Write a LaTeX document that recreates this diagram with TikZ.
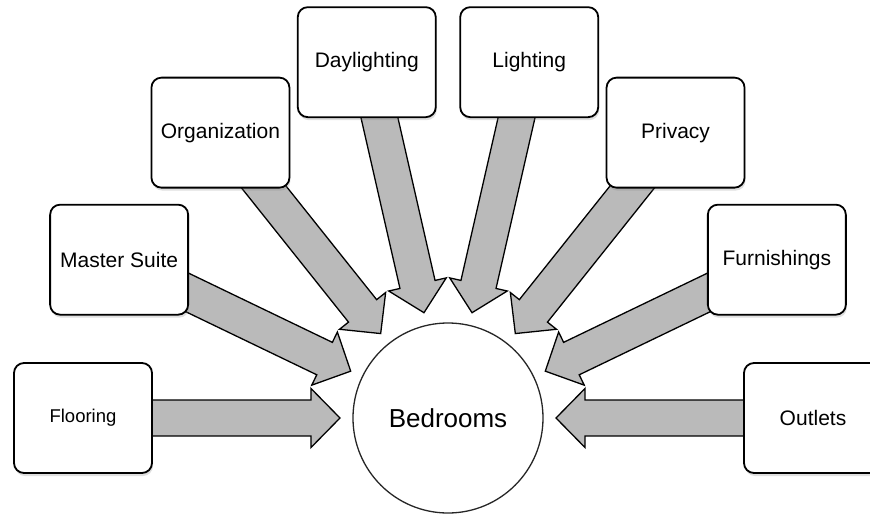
\documentclass[tikz,border=0pt]{standalone}
\usepackage{fontspec}
\setmainfont{Liberation Sans}
\usetikzlibrary{calc, backgrounds, shadows}

\newcommand{\BoxW}{138pt}
\newcommand{\BoxH}{110pt}
\newcommand{\Ring}{365}
\newcommand{\TipR}{108}
\newcommand{\ShaftW}{18pt}
\newcommand{\HeadW}{29.5pt}
\newcommand{\HeadL}{29pt}

\tikzset{TopicBox/.style={
    inner sep=0pt,
    minimum width=\BoxW,
    minimum height=\BoxH,
    rounded corners=10pt,
    draw=black,
    line width=1.8pt,
    fill=white,
    align=center,
    font=\fontsize{21}{25}\selectfont,
    drop shadow={opacity=0.25, shadow xshift=1pt, shadow yshift=-3pt}
    }
}
\tikzset{HubCircle/.style={
    circle,
    inner sep=0pt,
    minimum size=190pt,
    draw=black!85,
    line width=1.3pt,
    fill=white,
    font=\fontsize{26}{30}\selectfont
    }
}
\tikzset{ArrowBody/.style={
    draw=black,
    line width=1.3pt,
    fill=black!27,
    line join=miter
    }
}

% fat block arrow from a node (centre) to a tip coordinate
\newcommand{\FatArrow}[2]{%
    \coordinate (hb) at ($(#2)!\HeadL!(#1)$);
    \filldraw[ArrowBody]
        ($(#1)!\ShaftW!90:(#2)$) -- ($(hb)!\ShaftW!-90:(#1)$)
        -- ($(hb)!\HeadW!-90:(#1)$) -- (#2)
        -- ($(hb)!\HeadW!90:(#1)$) -- ($(hb)!\ShaftW!90:(#1)$)
        -- ($(#1)!\ShaftW!-90:(#2)$) -- cycle;
}

\begin{document}
\begin{tikzpicture}[x=1pt, y=1pt]
    \useasboundingbox (-448,-97) rectangle (422,418);

    \node (Bed) [HubCircle] at (0,0) {Bedrooms};

    \node (Floor) [TopicBox, font=\fontsize{18.5}{22}\selectfont] at (180:\Ring) {Flooring};
    \node (Suite) [TopicBox] at (154.29:\Ring) {Master Suite};
    \node (Org) [TopicBox] at (128.57:\Ring) {Organization};
    \node (Day) [TopicBox] at (102.86:\Ring) {Daylighting};
    \node (Light) [TopicBox] at (77.14:\Ring) {Lighting};
    \node (Priv) [TopicBox] at (51.43:\Ring) {Privacy};
    \node (Furn) [TopicBox] at (25.71:\Ring) {Furnishings};
    \node (Out) [TopicBox] at (0:\Ring) {Outlets};

    \coordinate (FloorTip) at (180:\TipR);
    \coordinate (SuiteTip) at (154.29:\TipR);
    \coordinate (OrgTip) at (128.57:\TipR);
    \coordinate (DayTip) at (102.86:\TipR);
    \coordinate (LightTip) at (77.14:\TipR);
    \coordinate (PrivTip) at (51.43:\TipR);
    \coordinate (FurnTip) at (25.71:\TipR);
    \coordinate (OutTip) at (0:\TipR);

    \begin{pgfonlayer}{background}
        \FatArrow{Floor}{FloorTip}
        \FatArrow{Suite}{SuiteTip}
        \FatArrow{Org}{OrgTip}
        \FatArrow{Day}{DayTip}
        \FatArrow{Light}{LightTip}
        \FatArrow{Priv}{PrivTip}
        \FatArrow{Furn}{FurnTip}
        \FatArrow{Out}{OutTip}
    \end{pgfonlayer}

\end{tikzpicture}
\end{document}
